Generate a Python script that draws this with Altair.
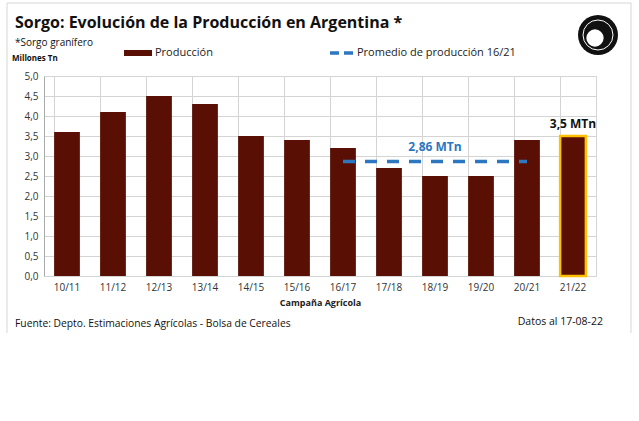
import altair as alt
import pandas as pd

campanias = ["10/11", "11/12", "12/13", "13/14", "14/15", "15/16",
             "16/17", "17/18", "18/19", "19/20", "20/21", "21/22"]
produccion = [3.6, 4.1, 4.5, 4.3, 3.5, 3.4, 3.2, 2.7, 2.5, 2.5, 3.4, 3.5]
promedio_campanias = ["16/17", "17/18", "18/19", "19/20", "20/21"]
promedio_valor = 2.86
y_ticks = [0, 0.5, 1, 1.5, 2, 2.5, 3, 3.5, 4, 4.5, 5]

FONT = "Open Sans"
BAR = "#5a0f05"
BLUE = "#2c77c0"
GRID = "#d4d4d4"

df = pd.DataFrame({"campania": campanias, "prod": produccion,
                   "destacado": [c == "21/22" for c in campanias]})
df_prom = pd.DataFrame({"campania": promedio_campanias,
                        "prod": [promedio_valor] * len(promedio_campanias)})

xenc = alt.X("campania:N", sort=campanias,
             scale=alt.Scale(paddingInner=0.44, paddingOuter=0.22),
             axis=alt.Axis(title="Campaña Agrícola", titleFont=FONT, titleFontSize=9,
                           titleFontWeight="bold", titleColor="#222", titlePadding=6,
                           labelFont=FONT, labelFontSize=10, labelColor="#333",
                           labelAngle=0, labelPadding=6, ticks=False, domain=False,
                           grid=True, gridColor=GRID, bandPosition=0))
yenc = alt.Y("prod:Q", scale=alt.Scale(domain=[0, 5]),
             axis=alt.Axis(title=None, values=y_ticks, labelOverlap=False,
                           labelExpr="replace(format(datum.value, '.1f'), '.', ',')",
                           labelFont=FONT, labelFontSize=10, labelColor="#333",
                           labelPadding=6, ticks=False, domain=True, domainColor="#aaa",
                           grid=True, gridColor=GRID))

bars = alt.Chart(df).mark_bar(color=BAR).encode(
    x=xenc, y=yenc,
    stroke=alt.condition("datum.destacado", alt.value("#FFC000"), alt.value(BAR)),
    strokeWidth=alt.condition("datum.destacado", alt.value(2.5), alt.value(0)),
)

label_last = alt.Chart(df[df["destacado"]]).mark_text(
    font=FONT, fontSize=12, fontWeight="bold", color="#111", dy=-12
).encode(x=xenc, y=yenc, text=alt.value("3,5 MTn"))

linea = alt.Chart(df_prom).mark_line(color=BLUE, strokeWidth=3.5, strokeDash=[12, 10]).encode(
    x=xenc, y=yenc)

label_prom = alt.Chart(df_prom[df_prom["campania"] == "18/19"]).mark_text(
    font=FONT, fontSize=12, fontWeight="bold", color=BLUE, dy=-15
).encode(x=xenc, y=yenc, text=alt.value("2,86 MTn"))

def txt(t, x, y, size, weight="normal", align="left", color="#111"):
    return alt.Chart(pd.DataFrame({"t": [t]})).mark_text(
        font=FONT, fontSize=size, fontWeight=weight, align=align, baseline="middle",
        color=color).encode(text="t:N", x=alt.value(x), y=alt.value(y))

# offsets: plot origin at page (44, 76)
ox, oy = 44, 76
texts = [
    txt("Sorgo: Evolución de la Producción en Argentina *", 15 - ox, 23 - oy, 16, "bold"),
    txt("*Sorgo granífero", 15 - ox, 43 - oy, 10),
    txt("Millones Tn", 12 - ox, 59 - oy, 8, "bold"),
    txt("Producción", 155 - ox, 53 - oy, 11, color="#222"),
    txt("Promedio de producción 16/21", 357 - ox, 53 - oy, 11, color="#222"),
    txt("Fuente: Depto. Estimaciones Agrícolas - Bolsa de Cereales", 15 - ox, 324 - oy, 10.3),
    txt("Datos al 17-08-22", 603 - ox, 322 - oy, 10.5, align="right"),
]

one = pd.DataFrame({"a": [0]})
leg_rect = alt.Chart(one).mark_rect(color=BAR).encode(
    x=alt.value(124 - ox), x2=alt.value(152 - ox), y=alt.value(50 - oy), y2=alt.value(56 - oy))
leg_line = alt.Chart(one).mark_rule(color=BLUE, strokeWidth=3.5, strokeDash=[9, 5]).encode(
    x=alt.value(330 - ox), x2=alt.value(356 - ox), y=alt.value(53 - oy))

frame = [
    alt.Chart(one).mark_rule(color="#d6d6d6", strokeWidth=1).encode(
        x=alt.value(7 - ox), x2=alt.value(631 - ox), y=alt.value(3 - oy)),
    alt.Chart(one).mark_rule(color="#d6d6d6", strokeWidth=1).encode(
        x=alt.value(7 - ox), y=alt.value(3 - oy), y2=alt.value(333 - oy)),
    alt.Chart(one).mark_rule(color="#d6d6d6", strokeWidth=1).encode(
        x=alt.value(631 - ox), y=alt.value(3 - oy), y2=alt.value(333 - oy)),
]

lx, ly = 598 - ox, 35 - oy
logo = [
    alt.Chart(one).mark_point(shape="circle", filled=True, color="#111", size=1600, opacity=1).encode(
        x=alt.value(lx), y=alt.value(ly)),
    alt.Chart(one).mark_point(shape="circle", filled=False, color="#fff", size=900, strokeWidth=1, opacity=1).encode(
        x=alt.value(lx), y=alt.value(ly)),
    alt.Chart(one).mark_point(shape="circle", filled=True, color="#fff", size=300, opacity=1).encode(
        x=alt.value(lx - 3), y=alt.value(ly + 3)),
]

chart = alt.layer(bars, linea, label_prom, label_last, leg_rect, leg_line,
                  *texts, *frame, *logo).properties(
    width=552, height=200,
    autosize=alt.AutoSizeParams(type="none"),
    padding={"left": ox, "top": oy, "right": 639 - 596, "bottom": 421 - 276},
    background="white",
).configure_view(stroke=GRID)

chart.save("out.html", embed_options={"renderer": "svg", "actions": False})
